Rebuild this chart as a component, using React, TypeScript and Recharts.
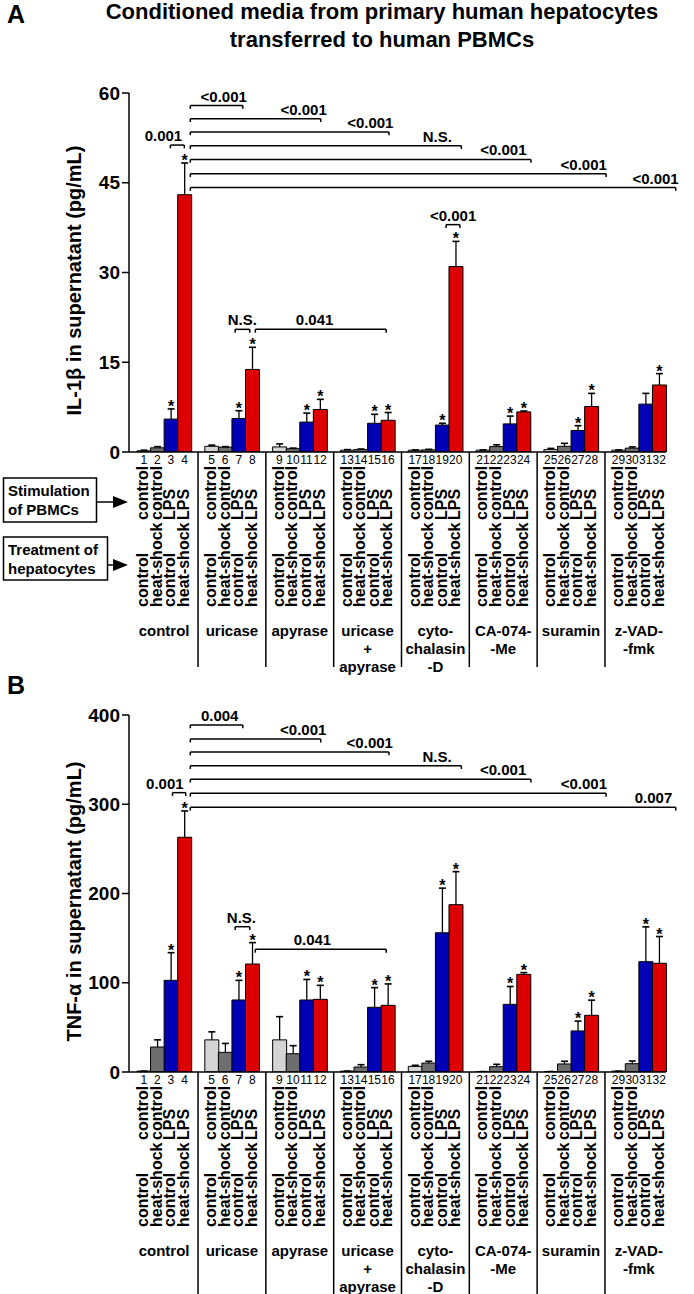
import React from 'react';
import { BarChart, Bar, XAxis, YAxis, Cell, ReferenceLine, ReferenceDot } from 'recharts';

// 8 pre-treatments of the hepatocytes, 4 bars each
const groupNames: string[][] = [
  ['control'],
  ['uricase'],
  ['apyrase'],
  ['uricase', '+', 'apyrase'],
  ['cyto-', 'chalasin', '-D'],
  ['CA-074-', '-Me'],
  ['suramin'],
  ['z-VAD-', '-fmk'],
];
const hepatocyteTreatment = ['control', 'heat-shock', 'control', 'heat-shock'];
const pbmcStimulation = ['control', 'control', 'LPS', 'LPS'];

// panel A: IL-1β, bars 1..32
const il1bMean = [
  0.2, 0.7, 5.5, 43.0,
  0.95, 0.8, 5.6, 13.8,
  0.85, 0.55, 5.0, 7.1,
  0.3, 0.4, 4.8, 5.3,
  0.3, 0.35, 4.5, 31.0,
  0.3, 0.9, 4.7, 6.7,
  0.4, 0.95, 3.6, 7.6,
  0.3, 0.65, 8.0, 11.2,
];
const il1bSem = [
  0.1, 0.2, 1.7, 5.3,
  0.2, 0.1, 1.3, 3.7,
  0.5, 0.1, 1.5, 1.7,
  0.1, 0.1, 1.5, 1.3,
  0.05, 0.1, 0.3, 4.2,
  0.05, 0.3, 1.3, 0.15,
  0.2, 0.5, 0.8, 2.2,
  0.05, 0.2, 1.8, 1.9,
];
const il1bStars = [3, 4, 7, 8, 11, 12, 15, 16, 19, 20, 23, 24, 27, 28, 32];
const il1bTicks = [0, 15, 30, 45, 60];
// bracket ends and label centre in bar units (4.8 = 80% across bar 4)
const il1bBrackets = [
  { from: 3.4, to: 4.4, y: 51.3, text: '0.001', at: 2.9 },
  { from: 4.83, to: 7.6, y: 57.9, text: '<0.001', at: 6.23 },
  { from: 4.83, to: 12.2, y: 55.7, text: '<0.001', at: 10.97 },
  { from: 4.83, to: 16.1, y: 53.5, text: '<0.001', at: 14.76 },
  { from: 4.83, to: 20.3, y: 51.2, text: 'N.S.', at: 18.57 },
  { from: 4.83, to: 24.3, y: 48.9, text: '<0.001', at: 22.32 },
  { from: 4.83, to: 28.7, y: 46.5, text: '<0.001', at: 27.09 },
  { from: 4.83, to: 32.7, y: 44.2, text: '<0.001', at: 31.25 },
  { from: 7.05, to: 8.1, y: 20.5, text: 'N.S.', at: 7.57 },
  { from: 8.5, to: 15.9, y: 20.5, text: '0.041', at: 11.76 },
  { from: 19.2, to: 20.2, y: 38.0, text: '<0.001', at: 19.71 },
];

// panel B: TNF-α
const tnfMean = [
  1, 28, 102.7, 263,
  36, 22, 80.7, 121,
  36, 20.5, 80.7, 81.4,
  1, 5.6, 72.5, 74.7,
  6.3, 10, 156, 187.5,
  0.5, 6, 75.8, 109.4,
  0.5, 9, 46, 63.5,
  1, 9.3, 123.6, 121.8,
];
const tnfSem = [
  0, 8, 31, 29.5,
  9, 10, 22, 24,
  26, 9, 23, 15.7,
  0, 2.6, 22, 24,
  1.2, 2, 50, 37,
  0, 2.6, 20, 2,
  0, 3, 11, 17,
  0, 3, 39, 30,
];
const tnfStars = [3, 4, 7, 8, 11, 12, 15, 16, 19, 20, 23, 24, 27, 28, 31, 32];
const tnfTicks = [0, 100, 200, 300, 400];
const tnfBrackets = [
  { from: 3.55, to: 4.5, y: 313, text: '0.001', at: 3.0 },
  { from: 4.83, to: 7.6, y: 388.8, text: '0.004', at: 5.94 },
  { from: 4.83, to: 12.2, y: 373, text: '<0.001', at: 10.94 },
  { from: 4.83, to: 16.1, y: 358.5, text: '<0.001', at: 14.72 },
  { from: 4.83, to: 20.3, y: 343.2, text: 'N.S.', at: 18.56 },
  { from: 4.83, to: 24.3, y: 328, text: '<0.001', at: 22.3 },
  { from: 4.83, to: 28.7, y: 312.2, text: '<0.001', at: 27.1 },
  { from: 4.83, to: 32.7, y: 296.6, text: '0.007', at: 31.1 },
  { from: 7.05, to: 8.1, y: 162.8, text: 'N.S.', at: 7.5 },
  { from: 8.5, to: 15.9, y: 137.4, text: '0.041', at: 11.6 },
];

const FONT = '"Liberation Sans", Arial, Helvetica, sans-serif';
const BAR_COLORS = ['#d4d4d4', '#6e6e6e', '#0000b4', '#dd0000'];
const W = 694;
const PLOT_LEFT = 129;
const PLOT_RIGHT = 666;
const PAD_LEFT = 8;
const SLOTS = 39; // 32 bars + 7 gaps
const BAND = (PLOT_RIGHT - PLOT_LEFT - PAD_LEFT) / SLOTS;

type Row = {
  name: string;
  gap?: boolean;
  kind: number;
  group: number;
  value: number | null;
  err: number | null;
  star: boolean;
};

const buildRows = (mean: number[], sem: number[], stars: number[]): Row[] => {
  const rows: Row[] = [];
  mean.forEach((m, i) => {
    if (i > 0 && i % 4 === 0) {
      rows.push({ name: `gap${i / 4}`, gap: true, kind: -1, group: -1, value: null, err: null, star: false });
    }
    rows.push({
      name: String(i + 1),
      kind: i % 4,
      group: Math.floor(i / 4),
      value: m,
      err: sem[i],
      star: stars.includes(i + 1),
    });
  });
  return rows;
};

// bar position -> slot on the hidden numeric axis
const slot = (p: number) => {
  const n = Math.floor(p);
  const i = n - 1;
  return i + Math.floor(i / 4) + (p - n);
};

const Whisker = (props: any) => {
  const { x, y, width, height, payload } = props;
  if (!payload || payload.gap || y == null || isNaN(y)) return null;
  const cx = x + width / 2;
  return (
    <g>
      <line x1={cx} x2={cx} y1={y} y2={y + height} stroke="#000" strokeWidth={1.3} />
      <line x1={cx - 3.5} x2={cx + 3.5} y1={y} y2={y} stroke="#000" strokeWidth={1.6} />
      {payload.star && (
        <text x={cx} y={y + 3} textAnchor="middle" fontSize={16} fontWeight="bold" fontFamily={FONT} fill="#000">
          *
        </text>
      )}
    </g>
  );
};

const YLabel = (props: any) => {
  const { viewBox, text } = props;
  const cx = viewBox.x + 81;
  const cy = viewBox.y + viewBox.height / 2 + 8;
  return (
    <text
      transform={`translate(${cx},${cy}) rotate(-90)`}
      textAnchor="middle"
      fontSize={20}
      fontWeight="bold"
      fontFamily={FONT}
      fill="#000"
    >
      {text}
    </text>
  );
};

interface PanelProps {
  rows: Row[];
  ticks: number[];
  brackets: { from: number; to: number; y: number; text: string; at: number }[];
  yLabel: string;
  height: number;
  top: number;
  axisHeight: number;
  sepLen: number;
}

const Panel: React.FC<PanelProps> = ({ rows, ticks, brackets, yLabel, height, top, axisHeight, sepLen }) => {
  const max = ticks[ticks.length - 1];
  const plotH = height - top - axisHeight;
  const drop = (max * 3.3) / plotH;

  const renderTick = (props: any) => {
    const { x, y, payload } = props;
    const row = rows.find((r) => r.name === payload.value);
    if (!row) return <g />;
    if (row.gap) {
      return <line x1={x} x2={x} y1={y} y2={y + sepLen} stroke="#000" strokeWidth={1.5} />;
    }
    const tx = x + 4.5;
    return (
      <g fontFamily={FONT}>
        <text x={x} y={y + 12} textAnchor="middle" fontSize={12} fill="#000">
          {row.name}
        </text>
        <text transform={`translate(${tx},${y + 68}) rotate(-90)`} fontSize={16} fontWeight="bold" fill="#000">
          {pbmcStimulation[row.kind]}
        </text>
        <text transform={`translate(${tx},${y + 155}) rotate(-90)`} fontSize={16} fontWeight="bold" fill="#000">
          {hepatocyteTreatment[row.kind]}
        </text>
        {row.kind === 1 &&
          groupNames[row.group].map((line, j) => (
            <text
              key={j}
              x={x + BAND / 2}
              y={y + 184 + j * 18}
              textAnchor="middle"
              fontSize={15}
              fontWeight="bold"
              fill="#000"
            >
              {line}
            </text>
          ))}
      </g>
    );
  };

  return (
    <BarChart
      width={W}
      height={height}
      data={rows}
      margin={{ top, right: W - PLOT_RIGHT, bottom: 0, left: 0 }}
      barCategoryGap={0}
      barGap={0}
    >
      <XAxis
        dataKey="name"
        interval={0}
        tickLine={false}
        tickSize={0}
        tickMargin={0}
        height={axisHeight}
        padding={{ left: PAD_LEFT, right: 0 }}
        axisLine={{ stroke: '#000', strokeWidth: 1.5 }}
        tick={renderTick}
      />
      <XAxis
        xAxisId="num"
        type="number"
        domain={[0, SLOTS]}
        allowDataOverflow
        hide
        padding={{ left: PAD_LEFT, right: 0 }}
      />
      <YAxis
        domain={[0, max]}
        ticks={ticks}
        allowDataOverflow
        width={PLOT_LEFT}
        tickSize={7}
        axisLine={{ stroke: '#000', strokeWidth: 1.5 }}
        tickLine={{ stroke: '#000', strokeWidth: 1.5 }}
        tick={{ fontSize: 19, fontWeight: 'bold', fill: '#000', fontFamily: FONT }}
        label={<YLabel text={yLabel} />}
      />
      <Bar dataKey="value" stackId="s" isAnimationActive={false} stroke="#000" strokeWidth={1}>
        {rows.map((r, i) => (
          <Cell key={i} fill={r.gap ? 'none' : BAR_COLORS[r.kind]} />
        ))}
      </Bar>
      <Bar dataKey="err" stackId="s" isAnimationActive={false} fill="none" shape={(p: any) => <Whisker {...p} />} />
      {brackets.flatMap((b, i) => {
        const a = slot(b.from);
        const c = slot(b.to);
        const line = { xAxisId: 'num', stroke: '#000', strokeWidth: 1.5, ifOverflow: 'visible' as const };
        return [
          <ReferenceLine key={`h${i}`} {...line} segment={[{ x: a, y: b.y }, { x: c, y: b.y }]} />,
          <ReferenceLine key={`l${i}`} {...line} segment={[{ x: a, y: b.y }, { x: a, y: b.y - drop }]} />,
          <ReferenceLine key={`r${i}`} {...line} segment={[{ x: c, y: b.y }, { x: c, y: b.y - drop }]} />,
          <ReferenceDot
            key={`t${i}`}
            xAxisId="num"
            x={slot(b.at)}
            y={b.y}
            r={0}
            ifOverflow="visible"
            shape={(p: any) => (
              <text
                x={p.cx}
                y={p.cy - 4}
                textAnchor="middle"
                fontSize={15}
                fontWeight="bold"
                fontFamily={FONT}
                fill="#000"
              >
                {b.text}
              </text>
            )}
          />,
        ];
      })}
    </BarChart>
  );
};

const Overlay = () => (
  <svg
    width={W}
    height={1294}
    style={{ position: 'absolute', left: 0, top: 0, pointerEvents: 'none' }}
    fontFamily={FONT}
    fontWeight="bold"
  >
    <text x={7} y={23} fontSize={25}>A</text>
    <text x={7} y={694} fontSize={25}>B</text>
    <text x={382} y={19} fontSize={22} textAnchor="middle">
      Conditioned media from primary human hepatocytes
    </text>
    <text x={382} y={47} fontSize={22} textAnchor="middle">
      transferred to human PBMCs
    </text>

    <rect x={3.5} y={478} width={93} height={44} fill="#fff" stroke="#000" strokeWidth={1.5} />
    <text x={8} y={496} fontSize={15}>Stimulation</text>
    <text x={8} y={515} fontSize={15}>of PBMCs</text>
    <line x1={97} x2={114} y1={502} y2={502} stroke="#000" strokeWidth={1.5} />
    <polygon points="113,496 128,502 113,508" fill="#000" />

    <rect x={3.5} y={537} width={104} height={43} fill="#fff" stroke="#000" strokeWidth={1.5} />
    <text x={8} y={555} fontSize={15}>Treatment of</text>
    <text x={8} y={574} fontSize={15}>hepatocytes</text>
    <line x1={108} x2={114} y1={565} y2={565} stroke="#000" strokeWidth={1.5} />
    <polygon points="113,559 128,565 113,571" fill="#000" />
  </svg>
);

const App: React.FC = () => {
  const il1bRows = buildRows(il1bMean, il1bSem, il1bStars);
  const tnfRows = buildRows(tnfMean, tnfSem, tnfStars);
  return (
    <div style={{ position: 'absolute', left: 0, top: 0, width: W, height: 1294, background: '#fff', fontFamily: FONT }}>
      <div style={{ position: 'absolute', left: 0, top: 0 }}>
        <Panel
          rows={il1bRows}
          ticks={il1bTicks}
          brackets={il1bBrackets}
          yLabel="IL-1β in supernatant (pg/mL)"
          height={680}
          top={93}
          axisHeight={228}
          sepLen={215}
        />
      </div>
      <div style={{ position: 'absolute', left: 0, top: 680 }}>
        <Panel
          rows={tnfRows}
          ticks={tnfTicks}
          brackets={tnfBrackets}
          yLabel="TNF-α in supernatant (pg/mL)"
          height={614}
          top={35}
          axisHeight={222}
          sepLen={222}
        />
      </div>
      <Overlay />
    </div>
  );
};

export default App;
